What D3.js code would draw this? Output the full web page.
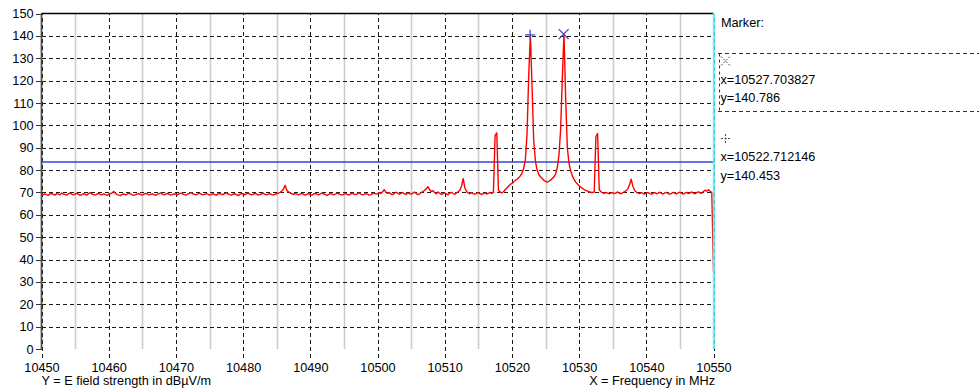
<!DOCTYPE html>
<html>
<head>
<meta charset="utf-8">
<script src="https://cdn.jsdelivr.net/npm/d3@7/dist/d3.min.js"></script>
<style>
  html, body { margin: 0; padding: 0; background: #fff; }
  svg { display: block; }
  text { font-family: "Liberation Sans", Arial, sans-serif; font-size: 12.7px; fill: #000; }
</style>
</head>
<body>
<svg id="chart" width="979" height="390"></svg>
<script>
// Sweep: 10450 .. 10550 MHz, one sample every 0.25 MHz
const sweepStart = 10450;
const sweepStep = 0.25;

// Measured E field strength (dBµV/m), one value per sweep sample
const fieldStrength = [
  // 10450
  69.2, 68.9, 69.4, 69.0, 68.7, 69.3, 69.6, 69.1, 68.8, 69.5, 69.2, 68.9, 69.7, 69.3, 69.0, 68.8, 69.4, 69.8, 69.2, 68.9,
  // 10455
  69.3, 69.6, 69.1, 68.7, 69.0, 69.4, 69.2, 68.8, 69.5, 69.9, 69.3, 69.0, 68.8, 69.2, 69.6, 69.1, 68.9, 69.4, 69.0, 68.7,
  // 10460
  69.1, 69.5, 69.8, 70.4, 69.6, 69.0, 68.8, 68.6, 69.1, 69.3, 68.9, 69.2, 69.7, 69.4, 68.9, 68.7, 69.0, 69.3, 69.5, 69.0,
  // 10465
  68.8, 69.2, 69.6, 69.3, 68.9, 69.1, 69.4, 69.0, 68.7, 69.2, 69.5, 69.8, 69.2, 68.9, 69.3, 69.6, 69.1, 68.8, 69.0, 69.4,
  // 10470
  69.2, 68.9, 69.5, 69.7, 69.3, 69.0, 68.8, 69.2, 69.6, 69.9, 69.4, 69.1, 68.9, 69.3, 69.7, 69.2, 68.9, 69.1, 69.5, 69.2,
  // 10475
  68.8, 69.0, 69.4, 69.1, 68.7, 69.3, 69.6, 69.2, 69.0, 69.5, 69.8, 69.3, 69.0, 68.8, 69.2, 69.4, 69.0, 68.6, 69.1, 69.5,
  // 10480
  69.3, 69.0, 69.4, 69.8, 69.2, 68.9, 69.1, 69.6, 69.3, 68.8, 69.0, 69.4, 69.7, 69.1, 68.9, 69.3, 69.5, 69.0, 68.8, 69.2,
  // 10485
  69.4, 69.7, 70.0, 70.6, 71.4, 73.2, 71.0, 70.2, 69.8, 69.4, 69.1, 69.5, 69.2, 68.9, 69.3, 69.6, 69.1, 68.8, 69.2, 69.5,
  // 10490
  69.0, 68.8, 69.3, 69.6, 69.2, 68.9, 69.4, 69.8, 69.3, 69.0, 68.7, 69.1, 69.5, 69.2, 68.9, 69.3, 69.7, 69.4, 69.0, 68.8,
  // 10495
  69.2, 69.5, 69.1, 68.8, 69.3, 69.6, 69.2, 69.0, 69.4, 69.8, 69.3, 68.9, 69.1, 69.5, 69.2, 68.8, 69.0, 69.4, 69.7, 69.3,
  // 10500
  69.4, 70.0, 69.5, 70.3, 71.2, 70.1, 69.6, 69.9, 69.3, 69.0, 69.5, 70.1, 69.7, 69.2, 69.6, 70.0, 69.4, 69.1, 69.8, 69.5,
  // 10505
  69.2, 69.7, 70.2, 69.5, 69.0, 69.4, 69.9, 70.4, 70.9, 71.5, 72.6, 71.3, 70.4, 70.8, 69.9, 69.4, 70.2, 69.6, 69.1, 69.5,
  // 10510
  69.8, 69.3, 69.0, 69.6, 70.1, 69.5, 69.2, 69.8, 70.3, 71.0, 72.8, 76.2, 72.0, 70.4, 69.8, 69.4, 69.9, 69.5, 69.2, 69.6,
  // 10515
  69.9, 69.4, 69.1, 69.5, 69.8, 69.3, 69.6, 70.0, 69.5, 70.2, 95.5, 96.6, 71.0, 70.2, 69.8, 70.3, 71.2, 72.0, 72.8, 73.6,
  // 10520
  74.0, 74.6, 75.4, 75.9, 76.5, 77.4, 78.6, 80.8, 84.5, 96.0, 122.0, 140.453, 117.0, 93.0, 84.0, 80.0, 78.0, 77.0, 76.2, 75.5,
  // 10525
  74.9, 74.6, 75.0, 75.5, 76.2, 77.0, 78.2, 81.0, 86.5, 98.0, 121.0, 140.786, 112.0, 90.0, 83.0, 79.6, 77.4, 75.8, 74.6, 73.8,
  // 10530
  73.0, 72.4, 71.8, 71.3, 70.9, 70.6, 70.3, 70.1, 70.0, 70.2, 95.0, 96.3, 71.2, 70.3, 69.8, 69.6, 70.0, 69.7, 69.4, 69.8,
  // 10535
  69.9, 69.5, 69.8, 70.2, 69.7, 69.4, 69.9, 70.3, 70.8, 71.6, 73.4, 75.9, 72.8, 71.0, 70.2, 69.7, 69.5, 69.9, 69.6, 69.3,
  // 10540
  69.7, 70.0, 69.5, 69.2, 69.6, 69.9, 69.4, 69.7, 70.1, 69.6, 69.3, 69.8, 70.0, 69.5, 69.2, 69.6, 70.0, 69.7, 69.4, 69.8,
  // 10545
  70.1, 69.6, 69.3, 69.7, 70.0, 69.5, 69.8, 70.2, 69.7, 69.4, 69.9, 70.3, 69.8, 69.6, 70.4, 71.0, 70.6, 71.2, 70.5, 69.9,
  // 10550
  34.5
];

const yTicks = [0, 10, 20, 30, 40, 50, 60, 70, 80, 90, 100, 110, 120, 130, 140, 150];
const xTicks = [10450, 10460, 10470, 10480, 10490, 10500, 10510, 10520, 10530, 10540, 10550];
const xMinorTicks = [10455, 10465, 10475, 10485, 10495, 10505, 10515, 10525, 10535, 10545];

const thresholdLevel = 83.6;

// Markers, listed in the order the panel shows them
const markerFreqs = [10527.703827, 10522.712146];
const markerLevels = [140.786, 140.453];
const markerShapes = ["cross", "plus"];

const yAxisTitle = "Y = E field strength in dBµV/m";
const xAxisTitle = "X = Frequency in MHz";
const markerTitle = "Marker:";

// ---------------------------------------------------------------
const svg = d3.select("#chart");
const plotLeft = 41.5, plotRight = 713.5, plotTop = 13.5, plotBottom = 349;

const x = d3.scaleLinear().domain([10450, 10550]).range([plotLeft, plotRight]);
const y = d3.scaleLinear().domain([0, 150]).range([plotBottom, plotTop]);

svg.append("rect").attr("width", 979).attr("height", 390).attr("fill", "#fff");

// light solid lines at the 5 MHz half steps
svg.append("g")
  .selectAll("line")
  .data(xMinorTicks)
  .join("line")
  .attr("x1", d => Math.round(x(d)) + 0.5)
  .attr("x2", d => Math.round(x(d)) + 0.5)
  .attr("y1", plotTop)
  .attr("y2", plotBottom)
  .attr("stroke", "#cccccc")
  .attr("stroke-width", 1.6);

// dashed horizontal grid
svg.append("g")
  .attr("transform", `translate(${plotLeft},0)`)
  .call(d3.axisLeft(y).tickValues(yTicks.filter(v => v > 0 && v < 150))
    .tickSize(-(plotRight - plotLeft)).tickFormat(""))
  .call(g => g.select(".domain").remove())
  .call(g => g.selectAll("line")
    .attr("stroke", "#1a1a1a")
    .attr("stroke-dasharray", "4,3")
    .attr("shape-rendering", "crispEdges"));

// bottom axis: dashed ticks that run up through the plot as grid lines
const xAxisY = plotBottom + 9;
svg.append("g")
  .attr("transform", `translate(0,${xAxisY})`)
  .call(d3.axisBottom(x).tickValues(xTicks)
    .tickSizeInner(-(xAxisY - plotTop)).tickSizeOuter(0)
    .tickPadding(4.5).tickFormat(d3.format("d")))
  .call(g => g.select(".domain").remove())
  .call(g => g.selectAll("line")
    .attr("stroke", "#1a1a1a")
    .attr("stroke-dasharray", "4,3")
    .attr("shape-rendering", "crispEdges"))
  .call(g => g.selectAll("text")
    .attr("font-family", null).attr("font-size", null).attr("fill", "#000"));

// left axis: short solid ticks and labels
svg.append("g")
  .attr("transform", `translate(${plotLeft},0)`)
  .call(d3.axisLeft(y).tickValues(yTicks).tickSize(6).tickPadding(2).tickFormat(d3.format("d")))
  .call(g => g.select(".domain").remove())
  .call(g => g.selectAll("line").attr("stroke", "#333").attr("shape-rendering", "crispEdges"))
  .call(g => g.selectAll("text")
    .attr("font-family", null).attr("font-size", null).attr("fill", "#000"));

// threshold line
svg.append("line")
  .attr("x1", plotLeft).attr("x2", plotRight)
  .attr("y1", y(thresholdLevel)).attr("y2", y(thresholdLevel))
  .attr("stroke", "#3046d8")
  .attr("stroke-width", 1.5);

// measured trace
const trace = fieldStrength.map((v, i) => [sweepStart + i * sweepStep, v]);
svg.append("path")
  .datum(trace)
  .attr("fill", "none")
  .attr("stroke", "#ff0000")
  .attr("stroke-width", 1.4)
  .attr("stroke-linejoin", "round")
  .attr("d", d3.line().x(d => x(d[0])).y(d => y(d[1])));

// frame: left axis line, top line, right cyan edge
svg.append("line")
  .attr("x1", plotLeft).attr("x2", plotLeft).attr("y1", plotTop).attr("y2", plotBottom + 1)
  .attr("stroke", "#4a4a4a").attr("stroke-width", 1.7);
svg.append("line")
  .attr("x1", plotLeft).attr("x2", plotRight).attr("y1", plotTop).attr("y2", plotTop)
  .attr("stroke", "#000").attr("stroke-width", 1.4);
svg.append("line")
  .attr("x1", plotRight + 0.3).attr("x2", plotRight + 0.3).attr("y1", plotTop - 0.7).attr("y2", plotBottom)
  .attr("stroke", "#55f2f2").attr("stroke-width", 2);

// marker symbols on the trace
function markerPath(shape, cx, cy, r) {
  const p = d3.path();
  if (shape === "plus") {
    p.moveTo(cx - r, cy); p.lineTo(cx + r, cy);
    p.moveTo(cx, cy - r); p.lineTo(cx, cy + r);
  } else {
    p.moveTo(cx - r, cy - r); p.lineTo(cx + r, cy + r);
    p.moveTo(cx - r, cy + r); p.lineTo(cx + r, cy - r);
  }
  return p.toString();
}

svg.append("g")
  .selectAll("path")
  .data(markerFreqs.map((f, i) => ({ f, v: markerLevels[i], shape: markerShapes[i] })))
  .join("path")
  .attr("d", d => markerPath(d.shape, x(d.f), y(d.v), 5))
  .attr("fill", "none")
  .attr("stroke", "#4646c8")
  .attr("stroke-width", 1.3);

// axis titles
svg.append("text").attr("x", 41.5).attr("y", 385).text(yAxisTitle);
svg.append("text").attr("x", 715).attr("y", 385).attr("text-anchor", "end").text(xAxisTitle);

// marker panel
const panel = svg.append("g");
panel.append("text").attr("x", 721).attr("y", 27).text(markerTitle);

const boxEdges = [53.5, 111.5];
const dashed = sel => sel.attr("stroke", "#333").attr("stroke-dasharray", "4,3")
  .attr("shape-rendering", "crispEdges");

// the active (selected) marker is framed by a dashed box
panel.append("line").attr("x1", 718).attr("x2", 979).attr("y1", boxEdges[0]).attr("y2", boxEdges[0]).call(dashed);
panel.append("line").attr("x1", 718).attr("x2", 979).attr("y1", boxEdges[1]).attr("y2", boxEdges[1]).call(dashed);
panel.append("line").attr("x1", 719.5).attr("x2", 719.5).attr("y1", boxEdges[0]).attr("y2", boxEdges[1])
  .attr("stroke", "#333").attr("stroke-dasharray", "3,3");

const entryBase = [61, 138.5];
markerFreqs.forEach((f, i) => {
  const b = entryBase[i];
  panel.append("path")
    .attr("d", markerPath(markerShapes[i], 725.5, b, 4.5))
    .attr("fill", "none")
    .attr("stroke", "#444")
    .attr("stroke-width", 1)
    .attr("stroke-dasharray", "2,1.5");
  panel.append("text").attr("x", 720.5).attr("y", b + 22.5).text("x=" + f.toFixed(6));
  panel.append("text").attr("x", 720.5).attr("y", b + 41).text("y=" + markerLevels[i].toFixed(3));
});
</script>
</body>
</html>
